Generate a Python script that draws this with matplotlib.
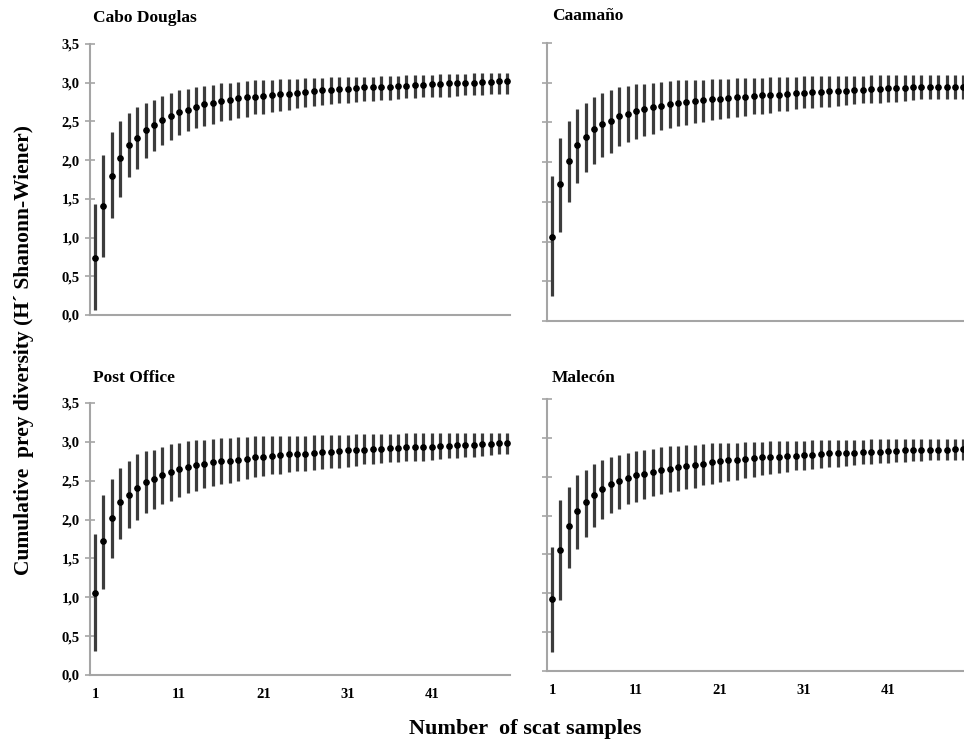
import numpy as np
import matplotlib.pyplot as plt

plt.rcParams['font.family'] = ['Liberation Serif', 'DejaVu Serif']

samples = list(range(1, 51))

# Cabo Douglas
cabo_mean = [0.74, 1.41, 1.80, 2.03, 2.19, 2.29, 2.39, 2.45, 2.52, 2.57,
             2.62, 2.65, 2.69, 2.72, 2.74, 2.76, 2.78, 2.80, 2.81, 2.82,
             2.83, 2.84, 2.85, 2.86, 2.87, 2.88, 2.89, 2.90, 2.91, 2.92,
             2.92, 2.93, 2.94, 2.94, 2.95, 2.95, 2.96, 2.96, 2.97, 2.97,
             2.98, 2.98, 2.99, 2.99, 3.00, 3.00, 3.01, 3.01, 3.02, 3.02]
cabo_low = [0.06, 0.75, 1.25, 1.53, 1.78, 1.89, 2.03, 2.12, 2.19, 2.26,
            2.32, 2.37, 2.41, 2.44, 2.47, 2.50, 2.52, 2.54, 2.56, 2.59,
            2.60, 2.62, 2.63, 2.65, 2.67, 2.68, 2.70, 2.71, 2.72, 2.74,
            2.74, 2.75, 2.76, 2.77, 2.78, 2.78, 2.79, 2.80, 2.80, 2.81,
            2.81, 2.82, 2.82, 2.83, 2.84, 2.84, 2.84, 2.85, 2.85, 2.85]
cabo_high = [1.43, 2.06, 2.36, 2.51, 2.61, 2.68, 2.74, 2.78, 2.83, 2.87,
             2.90, 2.92, 2.94, 2.96, 2.97, 2.99, 3.00, 3.01, 3.02, 3.03,
             3.04, 3.04, 3.05, 3.05, 3.05, 3.06, 3.06, 3.06, 3.07, 3.07,
             3.07, 3.08, 3.08, 3.08, 3.09, 3.09, 3.09, 3.10, 3.10, 3.10,
             3.10, 3.11, 3.11, 3.11, 3.11, 3.12, 3.12, 3.12, 3.12, 3.12]

# Caamaño
caam_mean = [1.06, 1.72, 2.01, 2.22, 2.32, 2.42, 2.48, 2.52, 2.58, 2.61,
             2.64, 2.67, 2.69, 2.71, 2.73, 2.75, 2.76, 2.77, 2.78, 2.79,
             2.80, 2.81, 2.82, 2.82, 2.83, 2.84, 2.85, 2.85, 2.86, 2.87,
             2.87, 2.88, 2.88, 2.89, 2.90, 2.90, 2.91, 2.91, 2.92, 2.92,
             2.93, 2.93, 2.93, 2.94, 2.94, 2.94, 2.95, 2.95, 2.95, 2.95]
caam_low = [0.31, 1.12, 1.50, 1.74, 1.88, 1.98, 2.07, 2.12, 2.20, 2.25,
            2.29, 2.33, 2.36, 2.40, 2.43, 2.45, 2.47, 2.49, 2.51, 2.53,
            2.54, 2.56, 2.57, 2.58, 2.60, 2.61, 2.62, 2.64, 2.65, 2.67,
            2.68, 2.68, 2.69, 2.70, 2.71, 2.72, 2.73, 2.74, 2.74, 2.75,
            2.76, 2.76, 2.77, 2.78, 2.79, 2.79, 2.79, 2.80, 2.80, 2.80]
caam_high = [1.82, 2.31, 2.52, 2.67, 2.75, 2.82, 2.87, 2.91, 2.94, 2.96,
             2.98, 2.99, 3.00, 3.01, 3.02, 3.03, 3.03, 3.04, 3.04, 3.05,
             3.05, 3.05, 3.06, 3.06, 3.06, 3.06, 3.07, 3.07, 3.07, 3.07,
             3.08, 3.08, 3.08, 3.08, 3.09, 3.09, 3.09, 3.09, 3.10, 3.10,
             3.10, 3.10, 3.10, 3.10, 3.10, 3.10, 3.10, 3.10, 3.10, 3.10]

# Post Office
post_mean = [1.06, 1.72, 2.02, 2.22, 2.32, 2.41, 2.48, 2.52, 2.57, 2.61,
             2.65, 2.68, 2.70, 2.72, 2.74, 2.75, 2.76, 2.77, 2.78, 2.80,
             2.81, 2.82, 2.83, 2.84, 2.85, 2.85, 2.86, 2.87, 2.87, 2.88,
             2.89, 2.89, 2.90, 2.91, 2.91, 2.92, 2.92, 2.93, 2.93, 2.94,
             2.94, 2.95, 2.95, 2.96, 2.96, 2.96, 2.97, 2.97, 2.98, 2.98]
post_low = [0.31, 1.11, 1.51, 1.75, 1.89, 1.99, 2.09, 2.13, 2.20, 2.24,
            2.29, 2.34, 2.37, 2.40, 2.43, 2.46, 2.47, 2.50, 2.52, 2.55,
            2.56, 2.58, 2.59, 2.61, 2.63, 2.63, 2.64, 2.65, 2.66, 2.67,
            2.68, 2.69, 2.71, 2.72, 2.73, 2.74, 2.74, 2.75, 2.76, 2.76,
            2.77, 2.78, 2.79, 2.79, 2.80, 2.81, 2.82, 2.83, 2.84, 2.85]
post_high = [1.81, 2.32, 2.52, 2.67, 2.75, 2.84, 2.88, 2.90, 2.94, 2.97,
             2.99, 3.01, 3.02, 3.03, 3.04, 3.05, 3.05, 3.06, 3.06, 3.07,
             3.07, 3.07, 3.08, 3.08, 3.08, 3.08, 3.09, 3.09, 3.09, 3.09,
             3.09, 3.10, 3.10, 3.10, 3.10, 3.10, 3.10, 3.11, 3.11, 3.11,
             3.11, 3.11, 3.11, 3.12, 3.12, 3.12, 3.12, 3.12, 3.12, 3.12]

# Malecón
male_mean = [0.93, 1.56, 1.86, 2.06, 2.17, 2.27, 2.34, 2.41, 2.45, 2.48,
             2.52, 2.54, 2.56, 2.58, 2.60, 2.62, 2.64, 2.65, 2.67, 2.69,
             2.70, 2.71, 2.72, 2.73, 2.74, 2.75, 2.75, 2.76, 2.77, 2.77,
             2.78, 2.78, 2.79, 2.80, 2.80, 2.81, 2.81, 2.82, 2.82, 2.82,
             2.83, 2.83, 2.84, 2.84, 2.84, 2.85, 2.85, 2.85, 2.86, 2.86]
male_low = [0.24, 0.92, 1.33, 1.57, 1.73, 1.85, 1.95, 2.03, 2.09, 2.15,
            2.18, 2.21, 2.25, 2.28, 2.30, 2.32, 2.34, 2.36, 2.39, 2.41,
            2.43, 2.44, 2.46, 2.48, 2.50, 2.52, 2.53, 2.55, 2.56, 2.58,
            2.59, 2.60, 2.61, 2.62, 2.63, 2.64, 2.65, 2.66, 2.67, 2.68,
            2.68, 2.69, 2.69, 2.70, 2.70, 2.71, 2.71, 2.72, 2.72, 2.72]
male_high = [1.60, 2.20, 2.37, 2.52, 2.59, 2.67, 2.72, 2.76, 2.78, 2.81,
             2.83, 2.85, 2.86, 2.88, 2.89, 2.90, 2.91, 2.91, 2.92, 2.93,
             2.93, 2.94, 2.94, 2.95, 2.95, 2.95, 2.96, 2.96, 2.96, 2.96,
             2.96, 2.97, 2.97, 2.97, 2.97, 2.97, 2.97, 2.97, 2.98, 2.98,
             2.98, 2.98, 2.98, 2.98, 2.98, 2.98, 2.98, 2.98, 2.98, 2.98]

titles = ['Cabo Douglas', 'Caamaño', 'Post Office', 'Malecón']
y_ticks = [0.0, 0.5, 1.0, 1.5, 2.0, 2.5, 3.0, 3.5]
y_tick_labels = ['0,0', '0,5', '1,0', '1,5', '2,0', '2,5', '3,0', '3,5']
x_ticks = [1, 11, 21, 31, 41]

panels = [
    (cabo_mean, cabo_low, cabo_high),
    (caam_mean, caam_low, caam_high),
    (post_mean, post_low, post_high),
    (male_mean, male_low, male_high),
]

W, H = 964, 744
fig = plt.figure(figsize=(W / 100, H / 100), dpi=100)

# axes boxes in pixels: left, top, right, bottom
boxes = [(90, 44, 510, 315), (547, 43, 966, 321),
         (90, 403, 510, 675), (547, 399, 966, 671)]
title_pos = [(93, 18), (552, 16), (93, 378), (552, 378)]

for i, (mean, low, high) in enumerate(panels):
    l, t, r, b = boxes[i]
    ax = fig.add_axes([l / W, 1 - b / H, (r - l) / W, (b - t) / H])
    mean = np.array(mean)
    err = [mean - np.array(low), np.array(high) - mean]
    ax.errorbar(samples, mean, yerr=err, fmt='o', color='black', markersize=3.8,
                ecolor='#3c3c3c', elinewidth=2.3, capsize=0)
    ax.set_xlim(0.4, 50.3)
    ax.set_ylim(0, 3.5)
    for s in ['top', 'right']:
        ax.spines[s].set_visible(False)
    for s in ['left', 'bottom']:
        ax.spines[s].set_color('#a5a5a5')
        ax.spines[s].set_linewidth(1.5)
    ax.set_yticks(y_ticks)
    ax.tick_params(axis='y', direction='inout', length=7, width=1.2,
                   color='#a5a5a5', pad=4)
    ax.tick_params(axis='x', length=0, pad=9)
    ax.set_xticks(x_ticks)
    if i % 2 == 0:
        ax.set_yticklabels(y_tick_labels, fontsize=10.5, fontweight='bold')
    else:
        ax.set_yticklabels([])
    if i >= 2:
        ax.set_xticklabels([str(v) for v in x_ticks], fontsize=10.5, fontweight='bold')
    else:
        ax.set_xticklabels([])
    tx, ty = title_pos[i]
    fig.text(tx / W, 1 - ty / H, titles[i], fontsize=12.5, fontweight='bold',
             ha='left', va='center')

fig.text(24 / W, 1 - 350 / H, 'Cumulative  prey diversity (H´ Shanonn-Wiener)',
         rotation=90, fontsize=15.5, fontweight='bold', ha='center', va='center')
fig.text(525 / W, 1 - 729 / H, 'Number  of scat samples',
         fontsize=16, fontweight='bold', ha='center', va='center')

fig.savefig('out.png', dpi=100)
